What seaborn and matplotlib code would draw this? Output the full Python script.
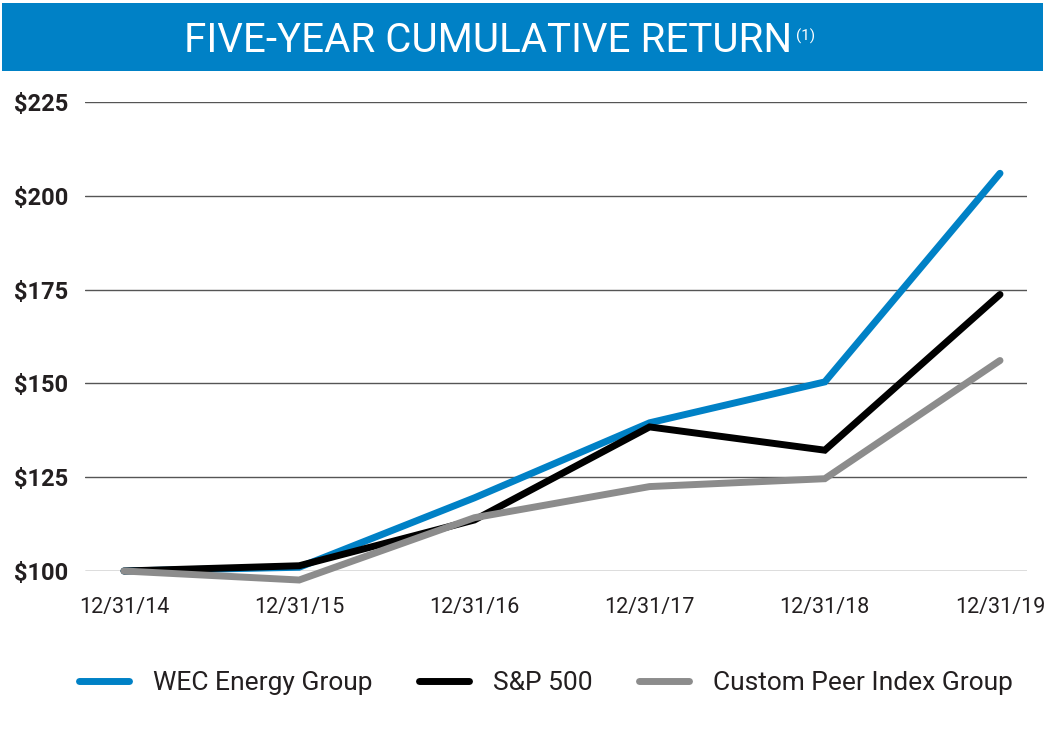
import matplotlib
matplotlib.use("Agg")
import matplotlib.pyplot as plt
import seaborn as sns
import pandas as pd
from matplotlib.patches import Rectangle
from matplotlib.lines import Line2D

dates = ["12/31/14", "12/31/15", "12/31/16", "12/31/17", "12/31/18", "12/31/19"]
wec = [100, 101, 119.5, 139.5, 150.4, 206.0]
sp500 = [100, 101.4, 113.6, 138.4, 132.2, 173.7]
peer = [100, 97.6, 114.2, 122.5, 124.6, 156.1]
series_names = ["WEC Energy Group", "S&P 500", "Custom Peer Index Group"]
colors = ["#0081C6", "#000000", "#8C8C8C"]
yticks = [100, 125, 150, 175, 200, 225]

rows = []
for name, vals in zip(series_names, [wec, sp500, peer]):
    for i, v in enumerate(vals):
        rows.append({"x": i, "date": dates[i], "value": v, "series": name})
df = pd.DataFrame(rows)

sns.set_theme(style="white")
plt.rcParams["font.family"] = ["Roboto", "DejaVu Sans"]

fig = plt.figure(figsize=(10.51, 7.51), dpi=100)
W, H = 1051, 751
ax = fig.add_axes([85 / W, 1 - 571 / H, (1027 - 85) / W, (571 - 102) / H])

sns.lineplot(data=df, x="x", y="value", hue="series", hue_order=series_names,
             palette=colors, linewidth=5, ax=ax, legend=False, sort=False)
for ln in ax.lines:
    ln.set_clip_on(False)
    ln.set_solid_capstyle("round")
    ln.set_solid_joinstyle("miter")

step = (1000 - 124) / 5
ax.set_xlim(-(124 - 85) / step, 5 + (1027 - 1000) / step)
ax.set_ylim(100, 225)
ax.set_yticks(yticks)
ax.set_yticklabels([f"${t}" for t in yticks], fontsize=17, fontweight="bold", color="#231F20")
ax.set_xticks(range(len(dates)))
ax.set_xticklabels(dates, fontsize=15.5, color="#231F20")
ax.tick_params(axis="y", pad=12, length=0)
ax.tick_params(axis="x", pad=19, length=0)
for t in yticks:
    ax.axhline(t, color="#555555", linewidth=1.0, zorder=0)
for s in ax.spines.values():
    s.set_visible(False)
ax.set_xlabel("")
ax.set_ylabel("")
ax.grid(False)

# Title banner
fig.patches.append(Rectangle((2 / W, 1 - 71 / H), (1043 - 2) / W, (71 - 3) / H,
                             transform=fig.transFigure, facecolor="#0081C6",
                             edgecolor="none", zorder=0))
fig.text(488 / W, 1 - 40 / H, "FIVE-YEAR CUMULATIVE RETURN", color="white",
         fontsize=29, ha="center", va="center")
fig.text(796 / W, 1 - 36 / H, "(1)", color="white", fontsize=11, ha="left", va="center")

# Legend
handles = [Line2D([0], [0], color=c, linewidth=5, solid_capstyle="round") for c in colors]
fig.legend(handles, series_names, loc="center", bbox_to_anchor=(546 / W, 1 - 683 / H),
           ncol=3, frameon=False, fontsize=19, handlelength=1.9, handletextpad=0.9,
           columnspacing=1.77, labelcolor="#231F20")

fig.savefig("out.png", dpi=100, facecolor="white")
